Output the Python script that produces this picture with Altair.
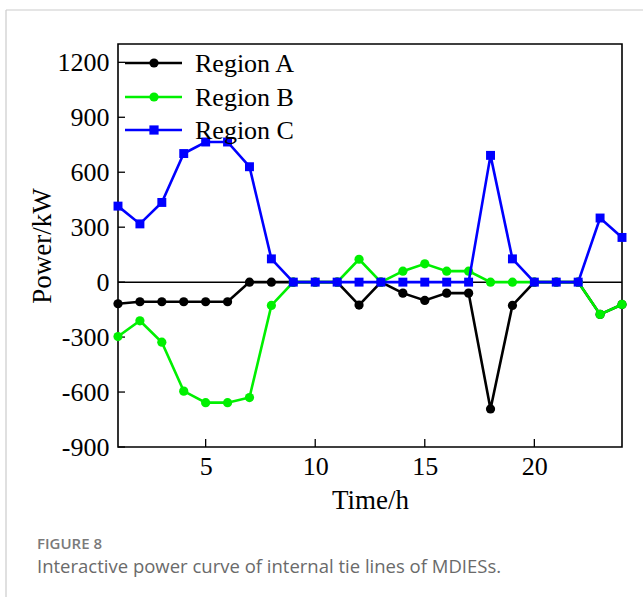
import altair as alt
import pandas as pd

hours = list(range(1, 25))
region_a = [-118, -107, -107, -107, -107, -107, 0, 0, 0, 0, 0, -125, 0, -60, -100, -60, -60, -692, -127, 0, 0, 0, -176, -122]
region_b = [-297, -211, -328, -595, -658, -658, -630, -127, 0, 0, 0, 125, 0, 60, 100, 60, 60, 0, 0, 0, 0, 0, -176, -122]
region_c = [415, 318, 435, 702, 765, 765, 630, 127, 0, 0, 0, 0, 0, 0, 0, 0, 0, 692, 127, 0, 0, 0, 350, 244]
series_names = ["Region A", "Region B", "Region C"]
series_colors = ["#000000", "#00f000", "#0000ff"]
series_shapes = ["circle", "circle", "square"]
x_ticks = [5, 10, 15, 20]
y_ticks = [-900, -600, -300, 0, 300, 600, 900, 1200]

W, H = 504, 403
SERIF = "Liberation Serif"

rows = []
for name, vals in zip(series_names, [region_a, region_b, region_c]):
    for h, v in zip(hours, vals):
        rows.append({"hour": h, "power": v, "series": name})
df = pd.DataFrame(rows)

xs = alt.Scale(domain=[1, 24], nice=False, zero=False)
ys = alt.Scale(domain=[-900, 1300], nice=False)

x_enc = alt.X("hour:Q", scale=xs,
              axis=alt.Axis(values=x_ticks, title="Time/h", ticks=False, grid=False,
                            labelFont=SERIF, labelFontSize=26, labelColor="black",
                            labelPadding=6, titleFont=SERIF, titleFontSize=27,
                            titleFontWeight="normal", titleColor="black", titlePadding=8,
                            domain=False, labelExpr="toString(datum.value)"))
y_enc = alt.Y("power:Q", scale=ys,
              axis=alt.Axis(values=y_ticks, title="Power/kW", ticks=False, grid=False,
                            labelFont=SERIF, labelFontSize=26, labelColor="black",
                            labelPadding=9, titleFont=SERIF, titleFontSize=27,
                            titleFontWeight="normal", titleColor="black", titlePadding=1,
                            domain=False, labelExpr="toString(datum.value)"))

layers = []

# zero reference line
zero_df = pd.DataFrame({"power": [0]})
layers.append(alt.Chart(zero_df).mark_rule(color="black", strokeWidth=1.5).encode(
    y=alt.Y("power:Q", scale=ys), x=alt.value(0), x2=alt.value(W)))

# inward ticks
yt_df = pd.DataFrame({"power": y_ticks})
layers.append(alt.Chart(yt_df).mark_rule(color="black", strokeWidth=1.3).encode(
    y=alt.Y("power:Q", scale=ys), x=alt.value(0), x2=alt.value(7)))
xt_df = pd.DataFrame({"hour": x_ticks})
layers.append(alt.Chart(xt_df).mark_rule(color="black", strokeWidth=1.3).encode(
    x=alt.X("hour:Q", scale=xs), y=alt.value(H), y2=alt.value(H - 8)))

for name, col, shp in zip(series_names, series_colors, series_shapes):
    sub = df[df.series == name]
    base = alt.Chart(sub)
    line = base.mark_line(color=col, strokeWidth=2.6).encode(x=x_enc, y=y_enc)
    pts = base.mark_point(color=col, filled=True, opacity=1, shape=shp,
                          size=85 if shp == "circle" else 80).encode(x=x_enc, y=y_enc)
    layers += [line, pts]

# manual legend
leg_df = pd.DataFrame({"series": series_names, "ly": [19, 53, 86],
                       "x1": [7] * 3, "x2": [64] * 3, "xm": [36] * 3, "xt": [77] * 3,
                       "color": series_colors, "shape": series_shapes})
layers.append(alt.Chart(leg_df).mark_rule(strokeWidth=2.6).encode(
    x=alt.X("x1:Q", scale=None), x2="x2:Q", y=alt.Y("ly:Q", scale=None),
    color=alt.Color("color:N", scale=None)))
layers.append(alt.Chart(leg_df).mark_point(filled=True, opacity=1, size=85).encode(
    x=alt.X("xm:Q", scale=None), y=alt.Y("ly:Q", scale=None),
    color=alt.Color("color:N", scale=None), shape=alt.Shape("shape:N", scale=None)))
layers.append(alt.Chart(leg_df).mark_text(align="left", baseline="middle", font=SERIF,
                                          fontSize=26, color="black", dy=1).encode(
    x=alt.X("xt:Q", scale=None), y=alt.Y("ly:Q", scale=None), text="series:N"))

# card border and caption (outside plot area)
border_df = pd.DataFrame({"a": [0]})
layers.append(alt.Chart(border_df).mark_rule(color="#cccccc", strokeWidth=1.2, clip=False).encode(
    x=alt.value(-112), y=alt.value(-34), y2=alt.value(600)))
layers.append(alt.Chart(border_df).mark_rule(color="#cccccc", strokeWidth=1.2, clip=False).encode(
    x=alt.value(-112), x2=alt.value(W + 30), y=alt.value(-34)))
cap_df = pd.DataFrame({"t": ["FIGURE 8"]})
layers.append(alt.Chart(cap_df).mark_text(align="left", baseline="middle", font="Open Sans",
                                          fontSize=15, fontWeight=600, color="#7a7a7a").encode(
    x=alt.value(-81), y=alt.value(500), text="t:N"))
cap2_df = pd.DataFrame({"t": ["Interactive power curve of internal tie lines of MDIESs."]})
layers.append(alt.Chart(cap2_df).mark_text(align="left", baseline="middle", font="Open Sans",
                                           fontSize=18.5, color="#6a6a6a").encode(
    x=alt.value(-81), y=alt.value(523), text="t:N"))

chart = alt.layer(*layers).properties(
    width=W, height=H,
    padding={"left": 118, "top": 44, "right": 21, "bottom": 150},
    autosize=alt.AutoSizeParams(type="none"),
    background="white",
).configure_view(stroke="black", strokeWidth=1.6)

chart.save("out.html", embed_options={"renderer": "svg", "actions": False})
